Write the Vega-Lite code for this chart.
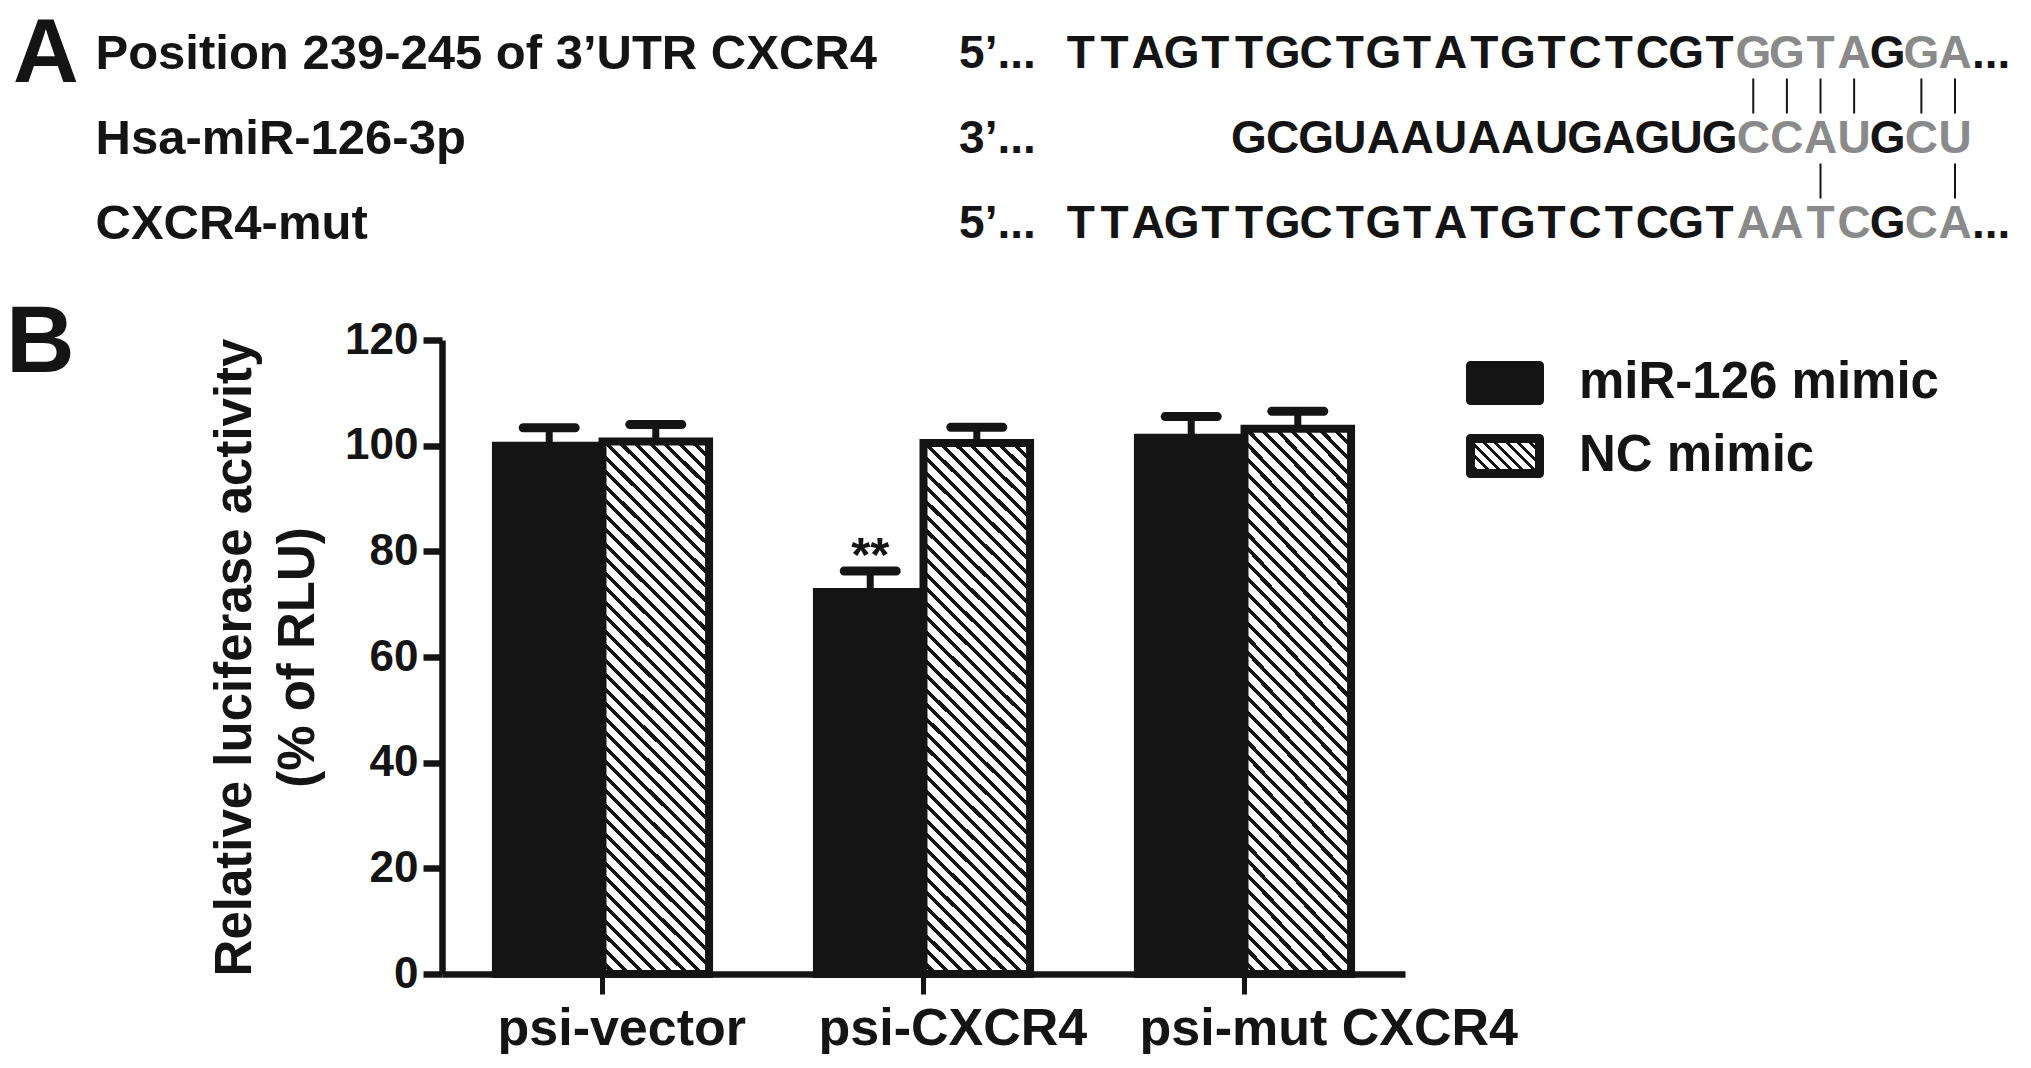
{
  "$schema": "https://vega.github.io/schema/vega-lite/v6.json",
  "background": "white",
  "padding": {"left": 6, "top": 9, "right": 0, "bottom": 0},
  "bounds": "flush",
  "spacing": 74,
  "config": {"font": "Liberation Sans", "view": {"stroke": null}},
  "datasets": {
    "letters": [
      {"row":"utr","pos":219,"nt":"T","site":"no"},{"row":"utr","pos":220,"nt":"T","site":"no"},{"row":"utr","pos":221,"nt":"A","site":"no"},{"row":"utr","pos":222,"nt":"G","site":"no"},{"row":"utr","pos":223,"nt":"T","site":"no"},{"row":"utr","pos":224,"nt":"T","site":"no"},{"row":"utr","pos":225,"nt":"G","site":"no"},{"row":"utr","pos":226,"nt":"C","site":"no"},{"row":"utr","pos":227,"nt":"T","site":"no"},{"row":"utr","pos":228,"nt":"G","site":"no"},{"row":"utr","pos":229,"nt":"T","site":"no"},{"row":"utr","pos":230,"nt":"A","site":"no"},{"row":"utr","pos":231,"nt":"T","site":"no"},{"row":"utr","pos":232,"nt":"G","site":"no"},{"row":"utr","pos":233,"nt":"T","site":"no"},{"row":"utr","pos":234,"nt":"C","site":"no"},{"row":"utr","pos":235,"nt":"T","site":"no"},{"row":"utr","pos":236,"nt":"C","site":"no"},{"row":"utr","pos":237,"nt":"G","site":"no"},{"row":"utr","pos":238,"nt":"T","site":"no"},{"row":"utr","pos":239,"nt":"G","site":"yes"},{"row":"utr","pos":240,"nt":"G","site":"yes"},{"row":"utr","pos":241,"nt":"T","site":"yes"},{"row":"utr","pos":242,"nt":"A","site":"yes"},{"row":"utr","pos":243,"nt":"G","site":"no"},{"row":"utr","pos":244,"nt":"G","site":"yes"},{"row":"utr","pos":245,"nt":"A","site":"yes"},
      {"row":"mir","pos":224,"nt":"G","site":"no"},{"row":"mir","pos":225,"nt":"C","site":"no"},{"row":"mir","pos":226,"nt":"G","site":"no"},{"row":"mir","pos":227,"nt":"U","site":"no"},{"row":"mir","pos":228,"nt":"A","site":"no"},{"row":"mir","pos":229,"nt":"A","site":"no"},{"row":"mir","pos":230,"nt":"U","site":"no"},{"row":"mir","pos":231,"nt":"A","site":"no"},{"row":"mir","pos":232,"nt":"A","site":"no"},{"row":"mir","pos":233,"nt":"U","site":"no"},{"row":"mir","pos":234,"nt":"G","site":"no"},{"row":"mir","pos":235,"nt":"A","site":"no"},{"row":"mir","pos":236,"nt":"G","site":"no"},{"row":"mir","pos":237,"nt":"U","site":"no"},{"row":"mir","pos":238,"nt":"G","site":"no"},{"row":"mir","pos":239,"nt":"C","site":"yes"},{"row":"mir","pos":240,"nt":"C","site":"yes"},{"row":"mir","pos":241,"nt":"A","site":"yes"},{"row":"mir","pos":242,"nt":"U","site":"yes"},{"row":"mir","pos":243,"nt":"G","site":"no"},{"row":"mir","pos":244,"nt":"C","site":"yes"},{"row":"mir","pos":245,"nt":"U","site":"yes"},
      {"row":"mut","pos":219,"nt":"T","site":"no"},{"row":"mut","pos":220,"nt":"T","site":"no"},{"row":"mut","pos":221,"nt":"A","site":"no"},{"row":"mut","pos":222,"nt":"G","site":"no"},{"row":"mut","pos":223,"nt":"T","site":"no"},{"row":"mut","pos":224,"nt":"T","site":"no"},{"row":"mut","pos":225,"nt":"G","site":"no"},{"row":"mut","pos":226,"nt":"C","site":"no"},{"row":"mut","pos":227,"nt":"T","site":"no"},{"row":"mut","pos":228,"nt":"G","site":"no"},{"row":"mut","pos":229,"nt":"T","site":"no"},{"row":"mut","pos":230,"nt":"A","site":"no"},{"row":"mut","pos":231,"nt":"T","site":"no"},{"row":"mut","pos":232,"nt":"G","site":"no"},{"row":"mut","pos":233,"nt":"T","site":"no"},{"row":"mut","pos":234,"nt":"C","site":"no"},{"row":"mut","pos":235,"nt":"T","site":"no"},{"row":"mut","pos":236,"nt":"C","site":"no"},{"row":"mut","pos":237,"nt":"G","site":"no"},{"row":"mut","pos":238,"nt":"T","site":"no"},{"row":"mut","pos":239,"nt":"A","site":"yes"},{"row":"mut","pos":240,"nt":"A","site":"yes"},{"row":"mut","pos":241,"nt":"T","site":"yes"},{"row":"mut","pos":242,"nt":"C","site":"yes"},{"row":"mut","pos":243,"nt":"G","site":"no"},{"row":"mut","pos":244,"nt":"C","site":"yes"},{"row":"mut","pos":245,"nt":"A","site":"yes"}
    ],
    "rows": [
      {"row":"utr","prefix":"5’...","suffix":"..."},
      {"row":"mir","prefix":"3’...","suffix":""},
      {"row":"mut","prefix":"5’...","suffix":"..."}
    ],
    "pairs": [
      {"row":"utr","row2":"mir","pos":239},{"row":"utr","row2":"mir","pos":240},{"row":"utr","row2":"mir","pos":241},{"row":"utr","row2":"mir","pos":242},{"row":"utr","row2":"mir","pos":244},{"row":"utr","row2":"mir","pos":245},
      {"row":"mir","row2":"mut","pos":241},{"row":"mir","row2":"mut","pos":245}
    ],
    "luc": [
      {"construct":"psi-vector","treatment":"miR-126 mimic","mean":100.0,"upper":103.4,"sig":""},
      {"construct":"psi-vector","treatment":"NC mimic","mean":100.8,"upper":104.0,"sig":""},
      {"construct":"psi-CXCR4","treatment":"miR-126 mimic","mean":72.3,"upper":76.3,"sig":"**"},
      {"construct":"psi-CXCR4","treatment":"NC mimic","mean":100.5,"upper":103.5,"sig":""},
      {"construct":"psi-mut CXCR4","treatment":"miR-126 mimic","mean":101.5,"upper":105.5,"sig":""},
      {"construct":"psi-mut CXCR4","treatment":"NC mimic","mean":103.2,"upper":106.5,"sig":""}
    ],
    "legendEntries": [
      {"treatment":"miR-126 mimic"},
      {"treatment":"NC mimic"}
    ]
  },
  "vconcat": [
    {
      "width": 1513,
      "height": 255,
      "title": {"text": "A", "anchor": "start", "frame": "group", "fontSize": 91, "fontWeight": "bold", "color": "#141414", "baseline": "alphabetic", "offset": 0, "dx": -429, "dy": 162},
      "encoding": {
        "y": {"field": "row", "type": "nominal",
          "scale": {"type": "point", "domain": ["utr","mir","mut"], "padding": 0.5},
          "axis": {"title": null, "domain": false, "ticks": false, "tickSize": 0, "grid": false, "labelAlign": "left", "labelBaseline": "middle", "labelPadding": 347, "labelFontSize": 49, "labelFontWeight": "bold", "labelColor": "#141414", "labelLimit": 0,
            "labelExpr": "datum.value === 'utr' ? 'Position 239-245 of 3’UTR CXCR4' : datum.value === 'mir' ? 'Hsa-miR-126-3p' : 'CXCR4-mut'"}}
      },
      "layer": [
        {
          "data": {"name": "letters"},
          "mark": {"type": "text", "fontSize": 46, "fontWeight": "bold", "baseline": "middle", "align": "center"},
          "encoding": {
            "x": {"field": "pos", "type": "quantitative", "scale": {"domain": [200, 245], "nice": false, "zero": false}, "axis": null},
            "text": {"field": "nt"},
            "color": {"field": "site", "type": "nominal", "scale": {"domain": ["no","yes"], "range": ["#141414","#8a8a8a"]}, "legend": null}
          }
        },
        {
          "data": {"name": "rows"},
          "mark": {"type": "text", "fontSize": 46, "fontWeight": "bold", "baseline": "middle", "align": "right", "dx": -45, "color": "#141414"},
          "encoding": {"x": {"datum": 219, "type": "quantitative"}, "text": {"field": "prefix"}}
        },
        {
          "data": {"name": "rows"},
          "mark": {"type": "text", "fontSize": 46, "fontWeight": "bold", "baseline": "middle", "align": "left", "dx": 17, "color": "#141414"},
          "encoding": {"x": {"datum": 245, "type": "quantitative"}, "text": {"field": "suffix"}}
        },
        {
          "data": {"name": "pairs"},
          "mark": {"type": "rule", "strokeWidth": 2, "color": "#141414", "yOffset": 25, "y2Offset": -25},
          "encoding": {"x": {"field": "pos", "type": "quantitative"}, "y2": {"field": "row2"}}
        }
      ]
    },
    {
      "hconcat": [
        {
          "width": 963,
          "height": 634,
          "data": {"name": "luc"},
          "title": {"text": "B", "anchor": "start", "frame": "group", "fontSize": 95, "fontWeight": "bold", "color": "#141414", "baseline": "alphabetic", "offset": 0, "dx": -436, "dy": 149},
          "encoding": {
            "x": {"field": "construct", "type": "nominal", "sort": ["psi-vector","psi-CXCR4","psi-mut CXCR4"],
              "scale": {"paddingInner": 0.336, "paddingOuter": 0.168},
              "axis": {"title": null, "labelAngle": 0, "labelAlign": "left", "labelOffset": -105, "labelFontSize": 52, "labelFontWeight": "bold", "labelColor": "#141414", "labelPadding": 9, "labelLimit": 0, "tickSize": 20, "tickWidth": 5, "tickColor": "#141414", "domainWidth": 6.5, "domainColor": "#141414"}},
            "xOffset": {"field": "treatment", "type": "nominal", "sort": ["miR-126 mimic","NC mimic"]},
            "y": {"field": "mean", "type": "quantitative", "scale": {"domain": [0, 120], "nice": false},
              "axis": {"title": ["Relative luciferase activity", "(% of RLU)"], "titleFontSize": 51, "titleFontWeight": "bold", "titleColor": "#141414", "titleLineHeight": 63, "titlePadding": 20,
                "values": [0,20,40,60,80,100,120], "tickSize": 19, "tickWidth": 6.5, "tickColor": "#141414", "domainWidth": 6.5, "domainColor": "#141414",
                "labelFontSize": 44, "labelFontWeight": "bold", "labelColor": "#141414", "labelPadding": 5, "grid": false, "labelFlush": false, "labelOverlap": false}}
          },
          "layer": [
            {
              "mark": {"type": "bar", "strokeWidth": 8, "stroke": "#141414", "opacity": 1},
              "encoding": {
                "fill": {"condition": {"test": "datum.treatment === 'NC mimic'", "value": {"gradient": "linear", "x1": 0, "y1": 1, "x2": 0.2292, "y2": -0.1533, "stops": [
                  {"offset":0,"color":"#fff"},{"offset":0.01477,"color":"#fff"},{"offset":0.01477,"color":"#141414"},{"offset":0.02273,"color":"#141414"},
                  {"offset":0.02273,"color":"#fff"},{"offset":0.0375,"color":"#fff"},{"offset":0.0375,"color":"#141414"},{"offset":0.04545,"color":"#141414"},
                  {"offset":0.04545,"color":"#fff"},{"offset":0.06023,"color":"#fff"},{"offset":0.06023,"color":"#141414"},{"offset":0.06818,"color":"#141414"},
                  {"offset":0.06818,"color":"#fff"},{"offset":0.08295,"color":"#fff"},{"offset":0.08295,"color":"#141414"},{"offset":0.09091,"color":"#141414"},
                  {"offset":0.09091,"color":"#fff"},{"offset":0.10568,"color":"#fff"},{"offset":0.10568,"color":"#141414"},{"offset":0.11364,"color":"#141414"},
                  {"offset":0.11364,"color":"#fff"},{"offset":0.12841,"color":"#fff"},{"offset":0.12841,"color":"#141414"},{"offset":0.13636,"color":"#141414"},
                  {"offset":0.13636,"color":"#fff"},{"offset":0.15114,"color":"#fff"},{"offset":0.15114,"color":"#141414"},{"offset":0.15909,"color":"#141414"},
                  {"offset":0.15909,"color":"#fff"},{"offset":0.17386,"color":"#fff"},{"offset":0.17386,"color":"#141414"},{"offset":0.18182,"color":"#141414"},
                  {"offset":0.18182,"color":"#fff"},{"offset":0.19659,"color":"#fff"},{"offset":0.19659,"color":"#141414"},{"offset":0.20455,"color":"#141414"},
                  {"offset":0.20455,"color":"#fff"},{"offset":0.21932,"color":"#fff"},{"offset":0.21932,"color":"#141414"},{"offset":0.22727,"color":"#141414"},
                  {"offset":0.22727,"color":"#fff"},{"offset":0.24205,"color":"#fff"},{"offset":0.24205,"color":"#141414"},{"offset":0.25,"color":"#141414"},
                  {"offset":0.25,"color":"#fff"},{"offset":0.26477,"color":"#fff"},{"offset":0.26477,"color":"#141414"},{"offset":0.27273,"color":"#141414"},
                  {"offset":0.27273,"color":"#fff"},{"offset":0.2875,"color":"#fff"},{"offset":0.2875,"color":"#141414"},{"offset":0.29545,"color":"#141414"},
                  {"offset":0.29545,"color":"#fff"},{"offset":0.31023,"color":"#fff"},{"offset":0.31023,"color":"#141414"},{"offset":0.31818,"color":"#141414"},
                  {"offset":0.31818,"color":"#fff"},{"offset":0.33295,"color":"#fff"},{"offset":0.33295,"color":"#141414"},{"offset":0.34091,"color":"#141414"},
                  {"offset":0.34091,"color":"#fff"},{"offset":0.35568,"color":"#fff"},{"offset":0.35568,"color":"#141414"},{"offset":0.36364,"color":"#141414"},
                  {"offset":0.36364,"color":"#fff"},{"offset":0.37841,"color":"#fff"},{"offset":0.37841,"color":"#141414"},{"offset":0.38636,"color":"#141414"},
                  {"offset":0.38636,"color":"#fff"},{"offset":0.40114,"color":"#fff"},{"offset":0.40114,"color":"#141414"},{"offset":0.40909,"color":"#141414"},
                  {"offset":0.40909,"color":"#fff"},{"offset":0.42386,"color":"#fff"},{"offset":0.42386,"color":"#141414"},{"offset":0.43182,"color":"#141414"},
                  {"offset":0.43182,"color":"#fff"},{"offset":0.44659,"color":"#fff"},{"offset":0.44659,"color":"#141414"},{"offset":0.45455,"color":"#141414"},
                  {"offset":0.45455,"color":"#fff"},{"offset":0.46932,"color":"#fff"},{"offset":0.46932,"color":"#141414"},{"offset":0.47727,"color":"#141414"},
                  {"offset":0.47727,"color":"#fff"},{"offset":0.49205,"color":"#fff"},{"offset":0.49205,"color":"#141414"},{"offset":0.5,"color":"#141414"},
                  {"offset":0.5,"color":"#fff"},{"offset":0.51477,"color":"#fff"},{"offset":0.51477,"color":"#141414"},{"offset":0.52273,"color":"#141414"},
                  {"offset":0.52273,"color":"#fff"},{"offset":0.5375,"color":"#fff"},{"offset":0.5375,"color":"#141414"},{"offset":0.54545,"color":"#141414"},
                  {"offset":0.54545,"color":"#fff"},{"offset":0.56023,"color":"#fff"},{"offset":0.56023,"color":"#141414"},{"offset":0.56818,"color":"#141414"},
                  {"offset":0.56818,"color":"#fff"},{"offset":0.58295,"color":"#fff"},{"offset":0.58295,"color":"#141414"},{"offset":0.59091,"color":"#141414"},
                  {"offset":0.59091,"color":"#fff"},{"offset":0.60568,"color":"#fff"},{"offset":0.60568,"color":"#141414"},{"offset":0.61364,"color":"#141414"},
                  {"offset":0.61364,"color":"#fff"},{"offset":0.62841,"color":"#fff"},{"offset":0.62841,"color":"#141414"},{"offset":0.63636,"color":"#141414"},
                  {"offset":0.63636,"color":"#fff"},{"offset":0.65114,"color":"#fff"},{"offset":0.65114,"color":"#141414"},{"offset":0.65909,"color":"#141414"},
                  {"offset":0.65909,"color":"#fff"},{"offset":0.67386,"color":"#fff"},{"offset":0.67386,"color":"#141414"},{"offset":0.68182,"color":"#141414"},
                  {"offset":0.68182,"color":"#fff"},{"offset":0.69659,"color":"#fff"},{"offset":0.69659,"color":"#141414"},{"offset":0.70455,"color":"#141414"},
                  {"offset":0.70455,"color":"#fff"},{"offset":0.71932,"color":"#fff"},{"offset":0.71932,"color":"#141414"},{"offset":0.72727,"color":"#141414"},
                  {"offset":0.72727,"color":"#fff"},{"offset":0.74205,"color":"#fff"},{"offset":0.74205,"color":"#141414"},{"offset":0.75,"color":"#141414"},
                  {"offset":0.75,"color":"#fff"},{"offset":0.76477,"color":"#fff"},{"offset":0.76477,"color":"#141414"},{"offset":0.77273,"color":"#141414"},
                  {"offset":0.77273,"color":"#fff"},{"offset":0.7875,"color":"#fff"},{"offset":0.7875,"color":"#141414"},{"offset":0.79545,"color":"#141414"},
                  {"offset":0.79545,"color":"#fff"},{"offset":0.81023,"color":"#fff"},{"offset":0.81023,"color":"#141414"},{"offset":0.81818,"color":"#141414"},
                  {"offset":0.81818,"color":"#fff"},{"offset":0.83295,"color":"#fff"},{"offset":0.83295,"color":"#141414"},{"offset":0.84091,"color":"#141414"},
                  {"offset":0.84091,"color":"#fff"},{"offset":0.85568,"color":"#fff"},{"offset":0.85568,"color":"#141414"},{"offset":0.86364,"color":"#141414"},
                  {"offset":0.86364,"color":"#fff"},{"offset":0.87841,"color":"#fff"},{"offset":0.87841,"color":"#141414"},{"offset":0.88636,"color":"#141414"},
                  {"offset":0.88636,"color":"#fff"},{"offset":0.90114,"color":"#fff"},{"offset":0.90114,"color":"#141414"},{"offset":0.90909,"color":"#141414"},
                  {"offset":0.90909,"color":"#fff"},{"offset":0.92386,"color":"#fff"},{"offset":0.92386,"color":"#141414"},{"offset":0.93182,"color":"#141414"},
                  {"offset":0.93182,"color":"#fff"},{"offset":0.94659,"color":"#fff"},{"offset":0.94659,"color":"#141414"},{"offset":0.95455,"color":"#141414"},
                  {"offset":0.95455,"color":"#fff"},{"offset":0.96932,"color":"#fff"},{"offset":0.96932,"color":"#141414"},{"offset":0.97727,"color":"#141414"},
                  {"offset":0.97727,"color":"#fff"},{"offset":0.99205,"color":"#fff"},{"offset":0.99205,"color":"#141414"},{"offset":1,"color":"#141414"}
                ]}}, "value": "#141414"}
              }
            },
            {
              "mark": {"type": "rule", "strokeWidth": 7, "color": "#141414"},
              "encoding": {"y2": {"field": "upper"}}
            },
            {
              "mark": {"type": "tick", "size": 61, "thickness": 9, "cornerRadius": 4.5, "color": "#141414", "opacity": 1},
              "encoding": {"y": {"field": "upper", "type": "quantitative"}}
            },
            {
              "transform": [{"filter": "datum.sig !== ''"}],
              "mark": {"type": "text", "fontSize": 49, "fontWeight": "bold", "baseline": "alphabetic", "align": "center", "color": "#141414"},
              "encoding": {"y": {"field": "upper", "type": "quantitative"}, "text": {"field": "sig"}}
            }
          ]
        },
        {
          "width": 78,
          "height": 159,
          "data": {"name": "legendEntries"},
          "encoding": {
            "y": {"field": "treatment", "type": "nominal", "scale": {"type": "point", "domain": ["miR-126 mimic","NC mimic"], "padding": 0.589}, "axis": null}
          },
          "layer": [
            {
              "mark": {"type": "point", "shape": "M-1,-0.507H1V0.507H-1Z", "size": 4761, "filled": true, "stroke": "#141414", "strokeWidth": 9, "strokeJoin": "round", "opacity": 1},
              "encoding": {
                "fill": {"condition": {"test": "datum.treatment === 'NC mimic'", "value": {"gradient": "linear", "x1": 0, "y1": 1, "x2": 1.1988, "y2": 0.3919, "stops": [
                  {"offset":0,"color":"#fff"},{"offset":0.0722,"color":"#fff"},{"offset":0.0722,"color":"#141414"},{"offset":0.1111,"color":"#141414"},
                  {"offset":0.1111,"color":"#fff"},{"offset":0.1833,"color":"#fff"},{"offset":0.1833,"color":"#141414"},{"offset":0.2222,"color":"#141414"},
                  {"offset":0.2222,"color":"#fff"},{"offset":0.2944,"color":"#fff"},{"offset":0.2944,"color":"#141414"},{"offset":0.3333,"color":"#141414"},
                  {"offset":0.3333,"color":"#fff"},{"offset":0.4056,"color":"#fff"},{"offset":0.4056,"color":"#141414"},{"offset":0.4444,"color":"#141414"},
                  {"offset":0.4444,"color":"#fff"},{"offset":0.5167,"color":"#fff"},{"offset":0.5167,"color":"#141414"},{"offset":0.5556,"color":"#141414"},
                  {"offset":0.5556,"color":"#fff"},{"offset":0.6278,"color":"#fff"},{"offset":0.6278,"color":"#141414"},{"offset":0.6667,"color":"#141414"},
                  {"offset":0.6667,"color":"#fff"},{"offset":0.7389,"color":"#fff"},{"offset":0.7389,"color":"#141414"},{"offset":0.7778,"color":"#141414"},
                  {"offset":0.7778,"color":"#fff"},{"offset":0.85,"color":"#fff"},{"offset":0.85,"color":"#141414"},{"offset":0.8889,"color":"#141414"},
                  {"offset":0.8889,"color":"#fff"},{"offset":0.9611,"color":"#fff"},{"offset":0.9611,"color":"#141414"},{"offset":1,"color":"#141414"}
                ]}}, "value": "#141414"}
              }
            },
            {
              "mark": {"type": "text", "align": "left", "baseline": "middle", "dx": 74, "fontSize": 51, "fontWeight": "bold", "color": "#141414"},
              "encoding": {"text": {"field": "treatment"}}
            }
          ]
        }
      ],
      "spacing": 61,
      "bounds": "flush"
    }
  ]
}
